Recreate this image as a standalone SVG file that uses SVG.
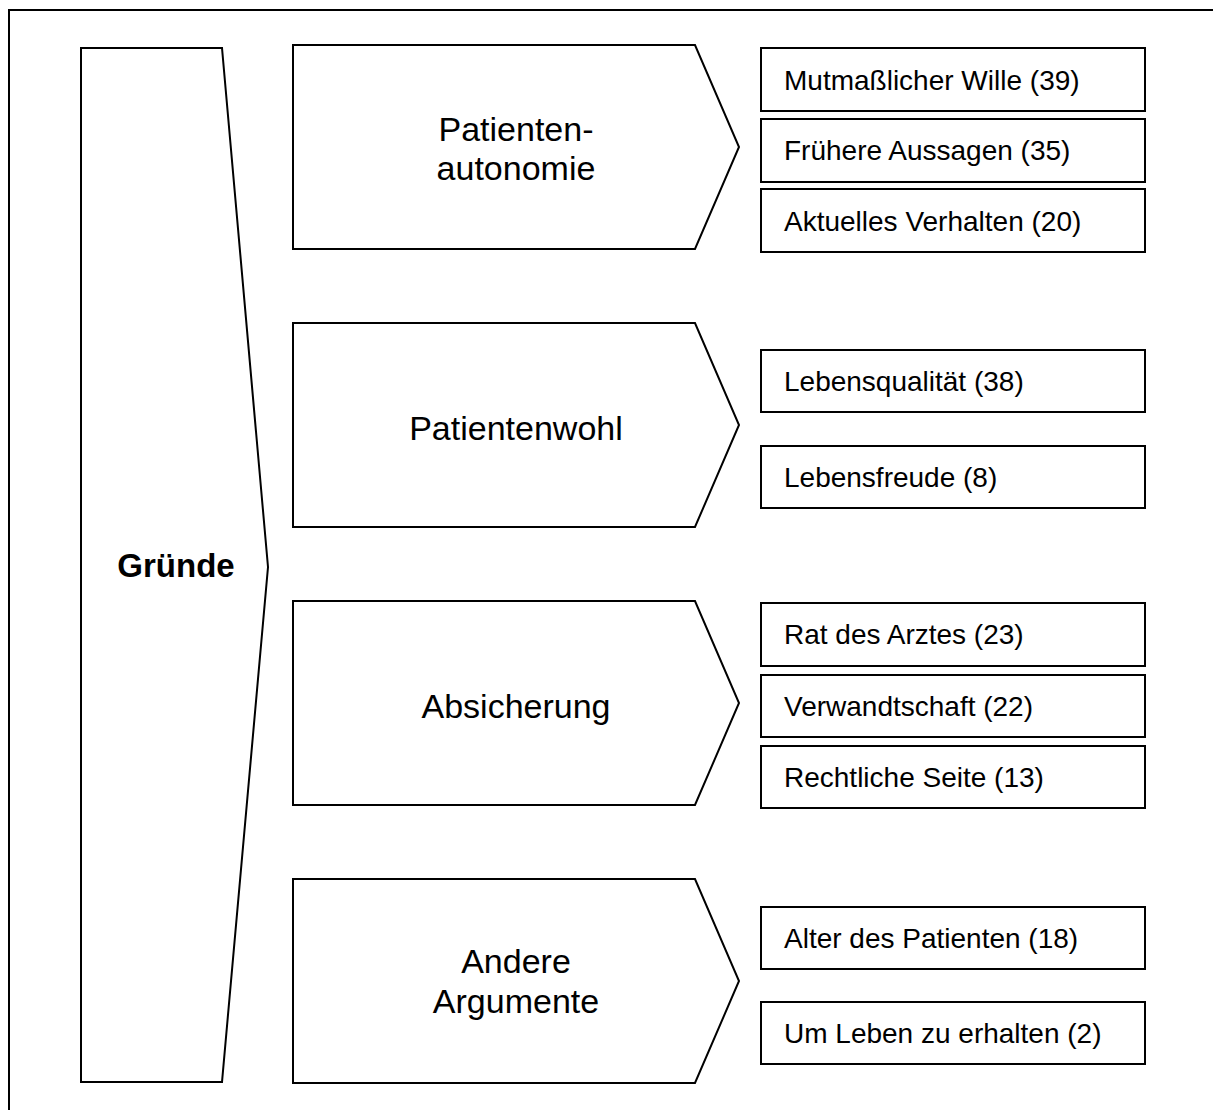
<svg xmlns="http://www.w3.org/2000/svg" width="1213" height="1110" viewBox="0 0 1213 1110">
<style>
.s{fill:#fff;stroke:#000;stroke-width:2;stroke-linejoin:miter}
.t{font-family:"Liberation Sans",Arial,sans-serif;fill:#000}
.b{font-size:28px}
.c{font-size:34px;text-anchor:middle}
.g{font-size:33px;font-weight:bold;text-anchor:middle}
</style>
<rect x="0" y="0" width="1213" height="1110" fill="#fff"/>
<rect x="9" y="10" width="1212" height="1110" fill="none" stroke="#000" stroke-width="2"/>
<g id="gruende">
<polygon class="s" points="81,48 222,48 268,567 222,1082 81,1082"/>
<text class="t g" x="176" y="577">Gründe</text>
</g>
<g id="autonomie">
<polygon class="s" points="293,45 695,45 739,147 695,249 293,249"/>
<text class="t c" x="516" y="141">Patienten-</text>
<text class="t c" x="516" y="180">autonomie</text>
</g>
<g id="wohl">
<polygon class="s" points="293,323 695,323 739,425 695,527 293,527"/>
<text class="t c" x="516" y="440">Patientenwohl</text>
</g>
<g id="absicherung">
<polygon class="s" points="293,601 695,601 739,703 695,805 293,805"/>
<text class="t c" x="516" y="718">Absicherung</text>
</g>
<g id="andere">
<polygon class="s" points="293,879 695,879 739,981 695,1083 293,1083"/>
<text class="t c" x="516" y="973">Andere</text>
<text class="t c" x="516" y="1013">Argumente</text>
</g>
<g id="b1"><rect class="s" x="761" y="48" width="384" height="63"/><text class="t b" x="784" y="90">Mutmaßlicher Wille (39)</text></g>
<g id="b2"><rect class="s" x="761" y="119" width="384" height="63"/><text class="t b" x="784" y="160">Frühere Aussagen (35)</text></g>
<g id="b3"><rect class="s" x="761" y="189" width="384" height="63"/><text class="t b" x="784" y="231">Aktuelles Verhalten (20)</text></g>
<g id="b4"><rect class="s" x="761" y="350" width="384" height="62"/><text class="t b" x="784" y="391">Lebensqualität (38)</text></g>
<g id="b5"><rect class="s" x="761" y="446" width="384" height="62"/><text class="t b" x="784" y="487">Lebensfreude (8)</text></g>
<g id="b6"><rect class="s" x="761" y="603" width="384" height="63"/><text class="t b" x="784" y="644">Rat des Arztes (23)</text></g>
<g id="b7"><rect class="s" x="761" y="675" width="384" height="62"/><text class="t b" x="784" y="716">Verwandtschaft (22)</text></g>
<g id="b8"><rect class="s" x="761" y="746" width="384" height="62"/><text class="t b" x="784" y="787">Rechtliche Seite (13)</text></g>
<g id="b9"><rect class="s" x="761" y="907" width="384" height="62"/><text class="t b" x="784" y="948">Alter des Patienten (18)</text></g>
<g id="b10"><rect class="s" x="761" y="1002" width="384" height="62"/><text class="t b" x="784" y="1043">Um Leben zu erhalten (2)</text></g>
<g id="connectors"></g>
</svg>
